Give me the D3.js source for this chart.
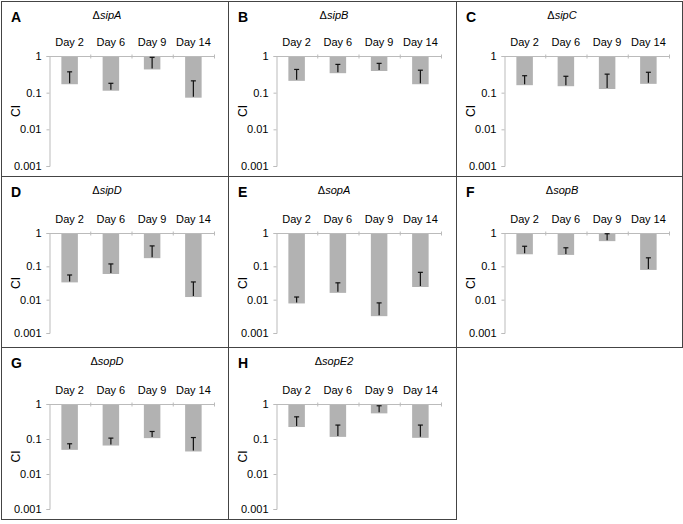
<!DOCTYPE html>
<html><head><meta charset="utf-8">
<script src="https://cdn.jsdelivr.net/npm/d3@7/dist/d3.min.js"></script>
<style>body{margin:0;background:#fff}svg{display:block}text{font-family:"Liberation Sans",Arial,sans-serif}</style>
</head><body><svg id="c" width="683" height="524"></svg>
<script>
const days = ["Day 2", "Day 6", "Day 9", "Day 14"];
const letters = ["A", "B", "C", "D", "E", "F", "G", "H"];
const genes = ["sipA", "sipB", "sipC", "sipD", "sopA", "sopB", "sopD", "sopE2"];
const ciMean = [
  [0.17, 0.113, 0.43, 0.073],
  [0.21, 0.34, 0.39, 0.17],
  [0.16, 0.15, 0.126, 0.174],
  [0.033, 0.059, 0.176, 0.012],
  [0.0077, 0.016, 0.0032, 0.024],
  [0.23, 0.22, 0.57, 0.078],
  [0.049, 0.065, 0.106, 0.044],
  [0.22, 0.115, 0.54, 0.108]
];
const ciUpper = [
  [0.37, 0.18, 0.92, 0.21],
  [0.43, 0.59, 0.63, 0.41],
  [0.29, 0.28, 0.32, 0.36],
  [0.055, 0.118, 0.41, 0.034],
  [0.012, 0.032, 0.008, 0.066],
  [0.40, 0.36, 0.95, 0.18],
  [0.073, 0.106, 0.164, 0.11],
  [0.43, 0.25, 0.89, 0.25]
];
const yTicks = [1, 0.1, 0.01, 0.001];
const yTickLabels = ["1", "0.1", "0.01", "0.001"];

const colEdges = [1, 228, 456, 682];
const rowEdges = [1, 176, 347, 519];
const plotTop = [56, 233, 404];
const plotBottom = [166, 333, 509];
const svg = d3.select("#c");

letters.forEach((L, i) => {
  const c = i % 3, r = Math.floor(i / 3);
  const x0 = colEdges[c], x1 = colEdges[c + 1];
  const y0 = rowEdges[r], y1 = rowEdges[r + 1];
  const g = svg.append("g");
  g.append("rect").attr("x", x0 + 0.5).attr("y", y0 + 0.5)
    .attr("width", x1 - x0).attr("height", y1 - y0)
    .attr("fill", "none").attr("stroke", "#444").attr("stroke-width", 1);

  const x = d3.scaleBand().domain(days).range([x0 + 48, x0 + 213]).paddingInner(0.6).paddingOuter(0.3);
  const y = d3.scaleLog().domain([0.001, 1]).range([plotBottom[r], plotTop[r]]);

  // y axis
  const ya = g.append("g").attr("transform", `translate(${x0 + 48.5},0)`)
    .call(d3.axisLeft(y).tickValues(yTicks).tickFormat((d, k) => yTickLabels[k]).tickSize(3).tickPadding(5));
  ya.select(".domain").attr("stroke", "#bbb");
  ya.selectAll(".tick line").attr("stroke", "#bbb");
  ya.selectAll(".tick text").attr("fill", "#000").attr("font-size", 11);

  // x axis line along y=1 with band boundary ticks
  const xa = g.append("g").attr("transform", `translate(0,${y(1) + 0.5})`);
  xa.append("line").attr("x1", x0 + 48).attr("x2", x0 + 213).attr("stroke", "#bbb");
  const bounds = days.map(d => x(d) - x.step() * x.paddingInner() / 2 + x.step());
  xa.selectAll("line.tk").data(bounds).join("line").attr("class", "tk")
    .attr("x1", d => d + 0.5).attr("x2", d => d + 0.5).attr("y1", -2).attr("y2", 2).attr("stroke", "#bbb");

  // day labels
  g.selectAll("text.day").data(days).join("text").attr("class", "day")
    .attr("x", d => x(d) + x.bandwidth() / 2).attr("y", y(1) - 10)
    .attr("text-anchor", "middle").attr("font-size", 11).text(d => d);

  // bars
  g.selectAll("rect.bar").data(days).join("rect").attr("class", "bar")
    .attr("x", d => x(d)).attr("width", x.bandwidth())
    .attr("y", y(1) + 1).attr("height", (d, k) => y(ciMean[i][k]) - y(1) - 1)
    .attr("fill", "#b2b2b2");

  // error bars
  g.selectAll("line.err").data(days).join("line").attr("class", "err")
    .attr("x1", d => x(d) + x.bandwidth() / 2).attr("x2", d => x(d) + x.bandwidth() / 2)
    .attr("y1", (d, k) => y(ciMean[i][k]) - 1).attr("y2", (d, k) => y(ciUpper[i][k]))
    .attr("stroke", "#111").attr("stroke-width", 1.2);
  g.selectAll("line.cap").data(days).join("line").attr("class", "cap")
    .attr("x1", d => x(d) + x.bandwidth() / 2 - 2.5).attr("x2", d => x(d) + x.bandwidth() / 2 + 2.5)
    .attr("y1", (d, k) => y(ciUpper[i][k])).attr("y2", (d, k) => y(ciUpper[i][k]))
    .attr("stroke", "#111").attr("stroke-width", 1.2);

  // CI label
  const ym = (y(1) + y(0.001)) / 2;
  g.append("text").attr("transform", `translate(${x0 + 19},${ym}) rotate(-90)`)
    .attr("text-anchor", "middle").attr("font-size", 12).text("CI");

  // panel letter
  g.append("text").attr("x", x0 + 10).attr("y", y0 + 21).attr("font-size", 14)
    .attr("font-weight", "bold").text(L);

  // title
  const t = g.append("text").attr("x", x0 + 106).attr("y", y0 + 18)
    .attr("text-anchor", "middle").attr("font-size", 11);
  t.append("tspan").text("\u0394");
  t.append("tspan").attr("font-style", "italic").text(genes[i]);
});
</script></body></html>
